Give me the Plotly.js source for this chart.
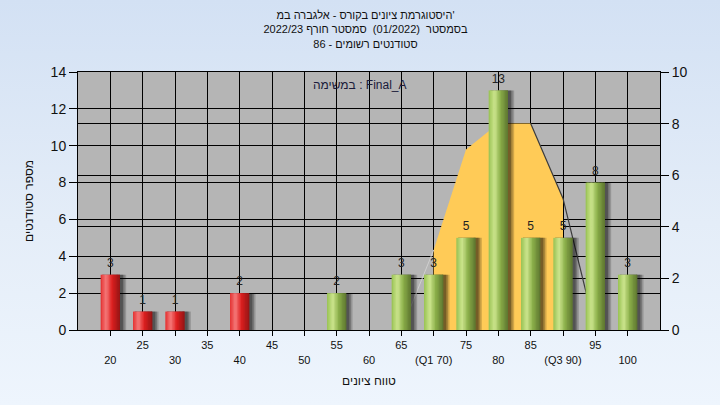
<!DOCTYPE html>
<html><head><meta charset="utf-8">
<script src="https://cdn.plot.ly/plotly-3.0.1.min.js"></script>
<style>
html,body{margin:0;padding:0;}
#chart{width:720px;height:405px;background:linear-gradient(to bottom,#d3e1f4 0%,#e4edf8 55%,#eef5fd 100%);}
</style></head><body><div id="chart"></div>
<script>
// ---- data ----
const scores = [20, 25, 30, 40, 55, 65, 70, 75, 80, 85, 90, 95, 100];
const counts = [3, 1, 1, 2, 2, 3, 3, 5, 13, 5, 5, 8, 3];
const tickValues = [20, 25, 30, 35, 40, 45, 50, 55, 60, 65, 70, 75, 80, 85, 90, 95, 100];
const tickLabels = ['20', '25', '30', '35', '40', '45', '50', '55', '60', '65', '(Q1 70)', '75', '80', '85', '(Q3 90)', '95', '100'];
const curveX = [65, 70, 75, 80, 85, 90, 95];
const curveY = [0, 3.1, 7.0, 8.0, 8.0, 5.1, 0];
const passMark = 55;
const titleLines = ["היסטוגרמת ציונים בקורס - אלגברה במ'", 'בסמסטר  (01/2022)  סמסטר חורף 2022/23', 'סטודנטים רשומים - 86'];
const taskLabel = 'במשימה : Final_A';
const xTitle = 'טווח ציונים';
const yTitle = 'מספר סטודנטים';

// ---- styling helpers ----
const FONT = 'Liberation Sans, DejaVu Sans, Arial, sans-serif';
const BW = 3.0;      // bar width in axis units
const N = 14;        // strips for the cylinder shading
function lerp(a, b, t) { return a.map((v, i) => Math.round(v + (b[i] - v) * t)); }
function profile(stops, t) {
  for (let i = 0; i < stops.length - 1; i++) {
    if (t <= stops[i + 1][0]) {
      const u = (t - stops[i][0]) / (stops[i + 1][0] - stops[i][0]);
      return lerp(stops[i][1], stops[i + 1][1], u);
    }
  }
  return stops[stops.length - 1][1];
}
const greenStops = [[0, [150, 192, 82]], [0.3, [205, 230, 142]], [0.6, [140, 176, 74]], [1, [92, 116, 46]]];
const redStops = [[0, [226, 48, 48]], [0.28, [246, 122, 122]], [0.58, [222, 32, 32]], [1, [148, 20, 20]]];
const rgb = c => `rgb(${c[0]},${c[1]},${c[2]})`;

const traces = [];

// area (on right axis)
traces.push({
  type: 'scatter', mode: 'lines', x: curveX.slice(1, 6), y: curveY.slice(1, 6), yaxis: 'y2',
  fill: 'tozeroy', fillcolor: '#ffcb57', line: {width: 0}, hoverinfo: 'skip', showlegend: false
});
traces.push({
  type: 'scatter', mode: 'lines', x: curveX.slice(0, 2), y: curveY.slice(0, 2), yaxis: 'y2',
  line: {color: '#cfcfcf', width: 1}, hoverinfo: 'skip', showlegend: false
});
traces.push({
  type: 'scatter', mode: 'lines', x: curveX.slice(4), y: curveY.slice(4), yaxis: 'y2',
  line: {color: '#3c3c3c', width: 1.2}, hoverinfo: 'skip', showlegend: false
});

// shadows
[[2.45, 'rgba(0,0,0,0.18)'], [2.2, 'rgba(0,0,0,0.22)'], [1.95, 'rgba(0,0,0,0.28)']].forEach(s => {
  traces.push({type: 'bar', x: scores, y: counts, yaxis: 'y', offset: -BW / 2 + 0.3, width: s[0] + BW / 2 - 0.3,
    marker: {color: s[1], line: {width: 0}}, hoverinfo: 'skip', showlegend: false});
});

// cylinder strips
for (let i = 0; i < N; i++) {
  const t = (i + 0.5) / N;
  const cols = scores.map(s => rgb(profile(s < passMark ? redStops : greenStops, t)));
  traces.push({
    type: 'bar', x: scores, y: counts, yaxis: 'y',
    offset: -BW / 2 + i * BW / N, width: i === N - 1 ? BW / N : BW / N * 1.5,
    marker: {color: cols, line: {width: 0}}, hoverinfo: 'skip', showlegend: false
  });
}

// value labels
traces.push({
  type: 'scatter', mode: 'markers+text', x: scores, y: counts, yaxis: 'y', text: counts.map(String),
  marker: {size: 6, color: 'rgba(0,0,0,0)'},
  textposition: 'top center', textfont: {family: FONT, size: 12, color: '#222'},
  cliponaxis: false, hoverinfo: 'skip', showlegend: false
});

const layout = {
  width: 720, height: 405,
  paper_bgcolor: 'rgba(0,0,0,0)', plot_bgcolor: '#b5b5b5',
  margin: {l: 78, r: 60, t: 72, b: 75},
  barmode: 'overlay', showlegend: false,
  font: {family: FONT, size: 11, color: '#111'},
  title: {text: titleLines.join('<br>'), x: 0.494, xanchor: 'center', xref: 'paper',
    y: 1 - 19 / 405, yanchor: 'top', yref: 'container', font: {family: FONT, size: 11, color: '#111'}},
  xaxis: {
    range: [15, 105], tickmode: 'array', tickvals: tickValues,
    ticktext: tickLabels.map((t, i) => i % 2 === 0 ? '<br>' + t : t),
    ticks: 'outside', ticklen: 5, tickcolor: '#000', showgrid: true, gridcolor: '#000', gridwidth: 1,
    showline: true, linecolor: '#000', mirror: true, zeroline: false, anchor: 'y2',
    tickfont: {family: FONT, size: 11, color: '#111'},
    title: {text: xTitle, standoff: 12, font: {family: FONT, size: 12, color: '#111'}}
  },
  yaxis2: {
    range: [0, 10], dtick: 2, side: 'right', ticks: 'outside', ticklen: 8, tickcolor: '#000',
    showgrid: true, gridcolor: '#000', gridwidth: 1, showline: true, linecolor: '#000', zeroline: false,
    tickfont: {family: FONT, size: 14, color: '#111'}
  },
  yaxis: {
    range: [0, 14], dtick: 2, overlaying: 'y2', side: 'left', ticks: 'outside', ticklen: 8, tickcolor: '#000',
    showgrid: true, gridcolor: '#000', gridwidth: 1, showline: true, linecolor: '#000', zeroline: false,
    tickfont: {family: FONT, size: 14, color: '#111'},
    title: {text: yTitle, standoff: 14, font: {family: FONT, size: 12, color: '#111'}}
  },
  annotations: [{
    text: taskLabel, xref: 'paper', yref: 'paper', x: 0.485, y: 1 - 13 / 258, xanchor: 'center', yanchor: 'middle',
    showarrow: false, font: {family: FONT, size: 12, color: '#1a1a3a'}
  }]
};

Plotly.newPlot('chart', traces, layout, {displayModeBar: false, staticPlot: true});
</script></body></html>
